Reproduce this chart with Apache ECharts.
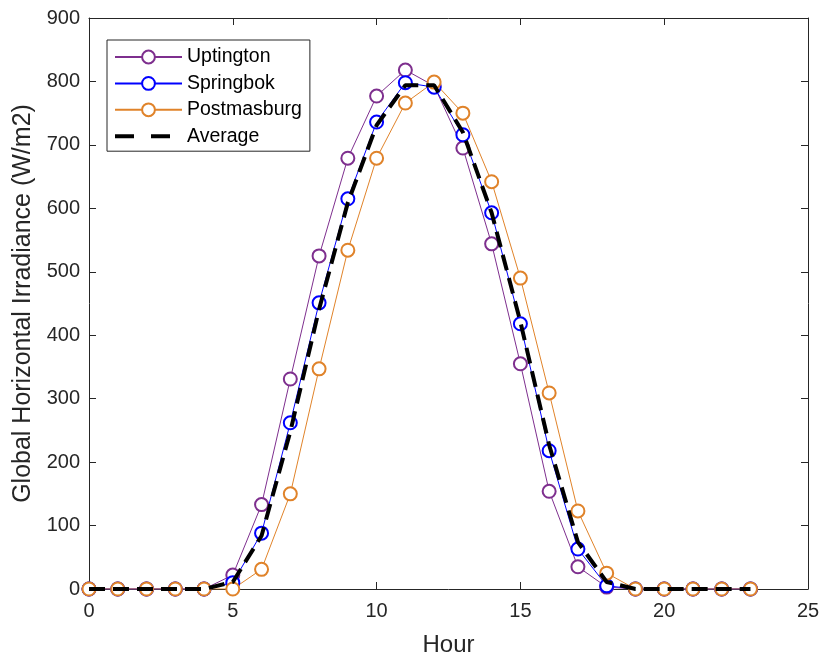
<!DOCTYPE html>
<html>
<head>
<meta charset="utf-8">
<script src="https://cdn.jsdelivr.net/npm/echarts@6/dist/echarts.min.js"></script>
<style>
  html, body { margin: 0; padding: 0; background: #ffffff; }
  #chart { width: 824px; height: 658px; }
</style>
</head>
<body>
<div id="chart"></div>
<script>
// Hourly global horizontal irradiance (W/m2) for three sites and their average
const hours = [0,1,2,3,4,5,6,7,8,9,10,11,12,13,14,15,16,17,18,19,20,21,22,23];
const uptington   = [0,0,0,0,0,22,133,331,525,679,777,818,793,695,544,355,154,35,3,0,0,0,0,0];
const springbok   = [0,0,0,0,0,10,88,262,451,615,736,798,791,716,593,418,218,63,5,0,0,0,0,0];
const postmasburg = [0,0,0,0,0,0,31,150,347,534,679,766,799,750,642,490,309,123,25,0,0,0,0,0];
const average     = [0,0,0,0,0,11,84,248,441,609,731,794,794,720,593,421,227,74,11,0,0,0,0,0];

const xTicks = { min: 0, max: 25, interval: 5 };
const yTicks = { min: 0, max: 900, interval: 100 };

const names = ['Uptington', 'Springbok', 'Postmasburg', 'Average'];
const colors = ['#7E2F8E', '#0000FF', '#E0832A', '#000000'];

const pairs = vals => hours.map((h, i) => [h, vals[i]]);

const axisColor = '#262626';
const fontFamily = 'Liberation Sans, Arial, Helvetica, sans-serif';

function siteSeries(name, vals, color) {
  return {
    name: name,
    type: 'line',
    data: pairs(vals),
    symbol: 'emptyCircle',
    symbolSize: 13,
    showAllSymbol: true,
    lineStyle: { color: color, width: 1 },
    itemStyle: { color: color, borderColor: color, borderWidth: 0.9 },
    emphasis: { disabled: true },
    animation: false
  };
}

const chart = echarts.init(document.getElementById('chart'), null, { renderer: 'canvas' });

chart.setOption({
  backgroundColor: '#ffffff',
  textStyle: { fontFamily: fontFamily },
  grid: {
    left: 89, right: 16, top: 18, bottom: 69,
    outerBoundsMode: 'none',
    containLabel: false,
    show: false
  },
  legend: {
    orient: 'vertical',
    left: 107,
    top: 40,
    padding: [7, 8, 5, 6],
    itemWidth: 67,
    itemHeight: 16,
    itemGap: 6.4,
    backgroundColor: '#ffffff',
    borderColor: '#262626',
    borderWidth: 1,
    borderRadius: 0,
    textStyle: { fontSize: 19.5, color: '#000000', fontFamily: fontFamily },
    data: [
      { name: 'Uptington' },
      { name: 'Springbok' },
      { name: 'Postmasburg' },
      { name: 'Average', itemStyle: { opacity: 0 }, lineStyle: { type: [19, 17], width: 4, color: '#000' } }
    ]
  },
  xAxis: [
    {
      type: 'value',
      min: xTicks.min, max: xTicks.max, interval: xTicks.interval,
      name: 'Hour',
      nameLocation: 'middle',
      nameGap: 44,
      nameTextStyle: { fontSize: 24, color: axisColor, fontFamily: fontFamily },
      axisLine: { show: true, onZero: false, lineStyle: { color: axisColor, width: 1 } },
      axisTick: { show: true, inside: true, length: 7, lineStyle: { color: axisColor } },
      axisLabel: { fontSize: 20, color: axisColor, margin: 12, fontFamily: fontFamily },
      splitLine: { show: false }
    },
    {
      type: 'value', position: 'top',
      min: xTicks.min, max: xTicks.max, interval: xTicks.interval,
      axisLine: { show: true, onZero: false, lineStyle: { color: axisColor, width: 1 } },
      axisTick: { show: true, inside: true, length: 7, lineStyle: { color: axisColor } },
      axisLabel: { show: false },
      splitLine: { show: false }
    }
  ],
  yAxis: [
    {
      type: 'value',
      min: yTicks.min, max: yTicks.max, interval: yTicks.interval,
      name: 'Global Horizontal Irradiance (W/m2)',
      nameLocation: 'middle',
      nameGap: 52,
      nameTextStyle: { fontSize: 25, color: axisColor, fontFamily: fontFamily },
      axisLine: { show: true, onZero: false, lineStyle: { color: axisColor, width: 1 } },
      axisTick: { show: true, inside: true, length: 7, lineStyle: { color: axisColor } },
      axisLabel: { fontSize: 20, color: axisColor, margin: 9, fontFamily: fontFamily },
      splitLine: { show: false }
    },
    {
      type: 'value', position: 'right',
      min: yTicks.min, max: yTicks.max, interval: yTicks.interval,
      axisLine: { show: true, onZero: false, lineStyle: { color: axisColor, width: 1 } },
      axisTick: { show: true, inside: true, length: 7, lineStyle: { color: axisColor } },
      axisLabel: { show: false },
      splitLine: { show: false }
    }
  ],
  series: [
    siteSeries(names[0], uptington, colors[0]),
    siteSeries(names[1], springbok, colors[1]),
    siteSeries(names[2], postmasburg, colors[2]),
    {
      name: names[3],
      type: 'line',
      data: pairs(average),
      symbol: 'none',
      lineStyle: { color: colors[3], width: 4, type: [16, 8] },
      itemStyle: { color: colors[3] },
      emphasis: { disabled: true },
      animation: false,
      z: 5
    }
  ]
});
</script>
</body>
</html>
